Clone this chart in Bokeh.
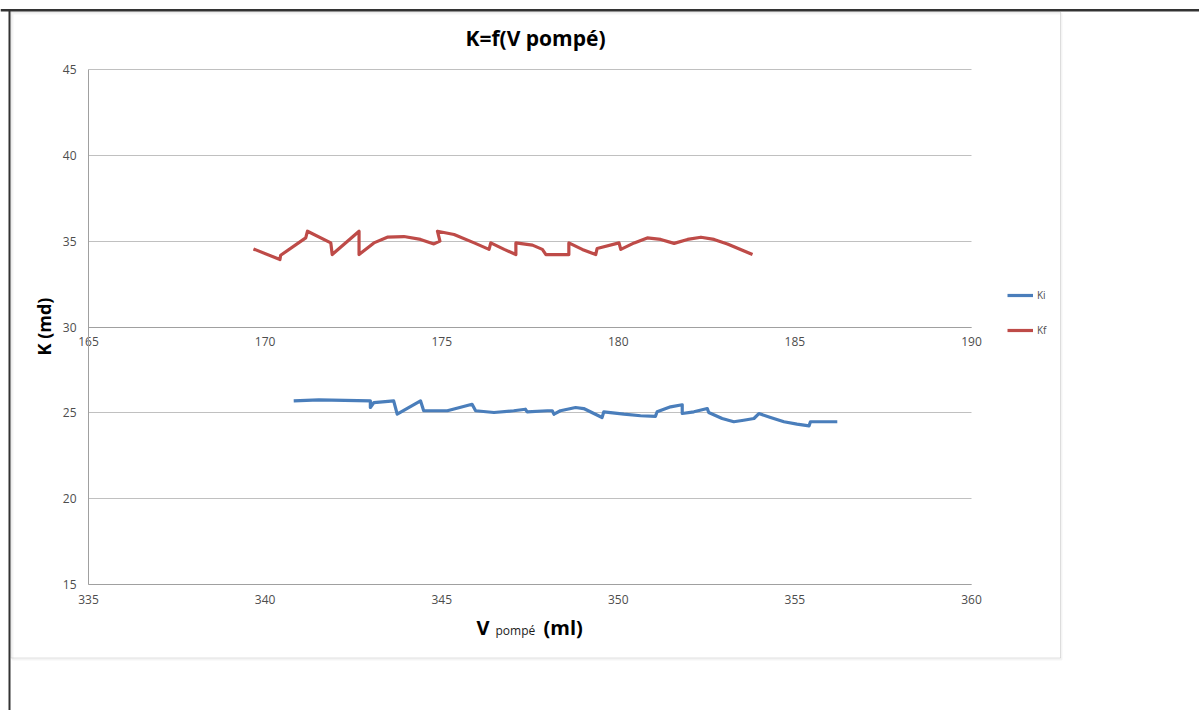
from bokeh.plotting import figure
from bokeh.models import (Range1d, FixedTicker, Label, LinearAxis, Grid,
                          Legend, LegendItem, BoxAnnotation)
from bokeh.embed import file_html
from bokeh.resources import INLINE
import math

# ---------------- data ----------------
kf_v = [169.67, 170.42, 170.44, 171.15, 171.20, 171.86, 171.90, 172.66, 172.66, 173.08,
        173.46, 173.93, 174.40, 174.78, 174.95, 174.88, 175.35, 175.92, 176.34, 176.39,
        176.77, 177.10, 177.10, 177.57, 177.85, 177.95, 178.60, 178.60, 178.98, 179.36,
        179.40, 180.02, 180.07, 180.45, 180.82, 181.20, 181.58, 181.96, 182.34, 182.71,
        183.09, 183.80]
kf = [34.55, 33.93, 34.18, 35.19, 35.58, 34.90, 34.22, 35.58, 34.22, 34.90,
      35.23, 35.27, 35.10, 34.84, 35.00, 35.58, 35.39, 34.90, 34.52, 34.90,
      34.52, 34.22, 34.90, 34.77, 34.52, 34.22, 34.22, 34.90, 34.52, 34.22,
      34.57, 34.90, 34.52, 34.90, 35.19, 35.10, 34.87, 35.10, 35.23, 35.10,
      34.84, 34.22]

ki_v = [340.81, 341.52, 342.98, 342.98, 343.08, 343.64, 343.74, 344.40, 344.49, 345.16,
        345.86, 345.96, 346.48, 347.04, 347.37, 347.42, 347.99, 348.13, 348.18, 348.36,
        348.79, 349.02, 349.54, 349.59, 350.16, 350.63, 351.05, 351.10, 351.48, 351.81,
        351.81, 352.14, 352.52, 352.56, 352.94, 353.27, 353.55, 353.84, 353.98, 354.31,
        354.69, 355.06, 355.40, 355.44, 356.20]
ki = [25.70, 25.76, 25.70, 25.31, 25.60, 25.70, 24.92, 25.70, 25.12, 25.12,
      25.50, 25.12, 25.02, 25.12, 25.21, 25.06, 25.12, 25.12, 24.92, 25.12,
      25.31, 25.25, 24.73, 25.06, 24.92, 24.83, 24.79, 25.06, 25.35, 25.47,
      24.96, 25.06, 25.25, 25.02, 24.67, 24.48, 24.57, 24.67, 24.96, 24.73,
      24.48, 24.34, 24.24, 24.48, 24.48]

y_ticks = [15, 20, 25, 30, 35, 40, 45]
ki_ticks = [335, 340, 345, 350, 355, 360]
kf_ticks = [165, 170, 175, 180, 185, 190]

title_text = "K=f(V pompé)"
y_title = "K (md)"
x_title = ["V", "pompé", "(ml)"]
series_names = ["Ki", "Kf"]

# ---------------- layout geometry (pixels of the picture) ----------------
W, H = 1199, 710
FL, FR, FT, FB = 88, 971, 69, 584          # plot area
X0, X1 = ki_ticks[0], ki_ticks[-1]
K0, K1 = kf_ticks[0], kf_ticks[-1]
Y0, Y1 = y_ticks[0], y_ticks[-1]


def dx(px):
    return X0 + (px - FL) * (X1 - X0) / (FR - FL)


def kx(px):
    return K0 + (px - FL) * (K1 - K0) / (FR - FL)


def dy(py):
    return Y0 + (FB - py) * (Y1 - Y0) / (FB - FT)


BLUE = "#4A7EBB"
RED = "#BE4B48"
FONT = "Open Sans"
TICK_COLOR = "#4d4d4d"
AXIS_COLOR = "#a0a0a0"
GRID_COLOR = "#c0c0c0"

p = figure(width=W, height=H, output_backend="svg", toolbar_location=None,
           title=None, x_axis_location=None, y_axis_location=None,
           x_range=Range1d(dx(0), dx(W)), y_range=Range1d(dy(H), dy(0)),
           min_border=0)
p.min_border_left = p.min_border_right = p.min_border_top = p.min_border_bottom = 0
p.extra_x_ranges = {"kf": Range1d(kx(0), kx(W))}
p.outline_line_color = None
p.background_fill_color = "white"
p.border_fill_color = "white"

# drop the default grids; a grid limited to the plot area is added below
for g in list(p.center):
    if isinstance(g, Grid):
        p.center.remove(g)


def style_axis(ax, standoff):
    ax.axis_line_color = AXIS_COLOR
    ax.axis_line_width = 1
    ax.major_tick_line_color = None
    ax.minor_tick_line_color = None
    ax.major_tick_out = 0
    ax.major_tick_in = 0
    ax.minor_tick_out = 0
    ax.major_label_standoff = standoff
    ax.major_label_text_font = FONT
    ax.major_label_text_font_size = "12px"
    ax.major_label_text_color = TICK_COLOR


# horizontal grid lines, limited to the plot area
grid_kw = dict(dimension=1, ticker=FixedTicker(ticks=y_ticks), bounds=(Y0, Y1),
               grid_line_color=GRID_COLOR, grid_line_width=1)
if "cross_bounds" in Grid.properties():
    p.add_layout(Grid(cross_bounds=(X0, X1), **grid_kw))
else:
    p.segment(x0=X0, x1=X1, y0=y_ticks, y1=y_ticks, line_color=GRID_COLOR, line_width=1)

# left K axis
yax = LinearAxis(fixed_location=X0, bounds=(Y0, Y1), ticker=FixedTicker(ticks=y_ticks))
style_axis(yax, 12)
p.add_layout(yax, "left")

# bottom axis for Ki volumes
xax = LinearAxis(fixed_location=Y0, bounds=(X0, X1), ticker=FixedTicker(ticks=ki_ticks))
style_axis(xax, 10)
p.add_layout(xax, "below")

# secondary axis for Kf volumes, drawn across the chart at K = 30
kax = LinearAxis(x_range_name="kf", fixed_location=y_ticks[3], bounds=(K0, K1),
                 ticker=FixedTicker(ticks=kf_ticks))
style_axis(kax, 10)
p.add_layout(kax, "below")

# series
r_ki = p.line(ki_v, ki, line_color=BLUE, line_width=3.2, line_join="round")
r_kf = p.line(kf_v, kf, line_color=RED, line_width=3.2, line_join="round", x_range_name="kf")

legend = Legend(items=[LegendItem(label=series_names[0], renderers=[r_ki]),
                       LegendItem(label=series_names[1], renderers=[r_kf])],
                location=(1007, H - 340), orientation="vertical",
                padding=0, margin=0, spacing=15,
                glyph_width=26, glyph_height=20, label_height=20,
                label_standoff=4, label_text_font=FONT, label_text_font_size="10px",
                label_text_color=TICK_COLOR,
                border_line_color=None, background_fill_alpha=0)
p.add_layout(legend, "center")

# titles
p.add_layout(Label(x=dx(535), y=dy(37), text=title_text, text_align="center",
                   text_baseline="middle", text_font=FONT, text_font_size="21px",
                   text_font_style="bold", text_color="#000000"))
p.add_layout(Label(x=dx(43), y=dy(326), text=y_title, angle=math.pi / 2,
                   text_align="center", text_baseline="middle", text_font=FONT,
                   text_font_size="18px", text_font_style="bold", text_color="#000000"))
p.add_layout(Label(x=dx(476), y=dy(627), text=x_title[0], text_align="left",
                   text_baseline="alphabetic", text_font=FONT, text_font_size="20px",
                   text_font_style="bold", text_color="#000000"))
p.add_layout(Label(x=dx(495), y=dy(630), text=x_title[1], text_align="left",
                   text_baseline="alphabetic", text_font=FONT, text_font_size="12px",
                   text_color="#1a1a1a"))
p.add_layout(Label(x=dx(543), y=dy(627), text=x_title[2], text_align="left",
                   text_baseline="alphabetic", text_font=FONT, text_font_size="20px",
                   text_font_style="bold", text_color="#000000"))

# chart box and page rules
p.add_layout(BoxAnnotation(left=dx(12), right=dx(1061), top=dy(13), bottom=dy(659),
                           fill_alpha=0, line_color="#dcdcdc", line_width=2,
                           level="underlay"))
p.add_layout(BoxAnnotation(left=dx(10.5), right=dx(1060), top=dy(11.5), bottom=dy(657.5),
                           fill_alpha=0, line_color="#9a9a9a", line_width=1,
                           level="underlay"))
p.add_layout(BoxAnnotation(left=dx(0), right=dx(W), top=dy(8.5), bottom=dy(11),
                           fill_color="#333333", fill_alpha=1, line_alpha=0))
p.add_layout(BoxAnnotation(left=dx(8), right=dx(10), top=dy(9), bottom=dy(H),
                           fill_color="#333333", fill_alpha=1, line_alpha=0))

open("out.html", "w").write(file_html(p, INLINE))
